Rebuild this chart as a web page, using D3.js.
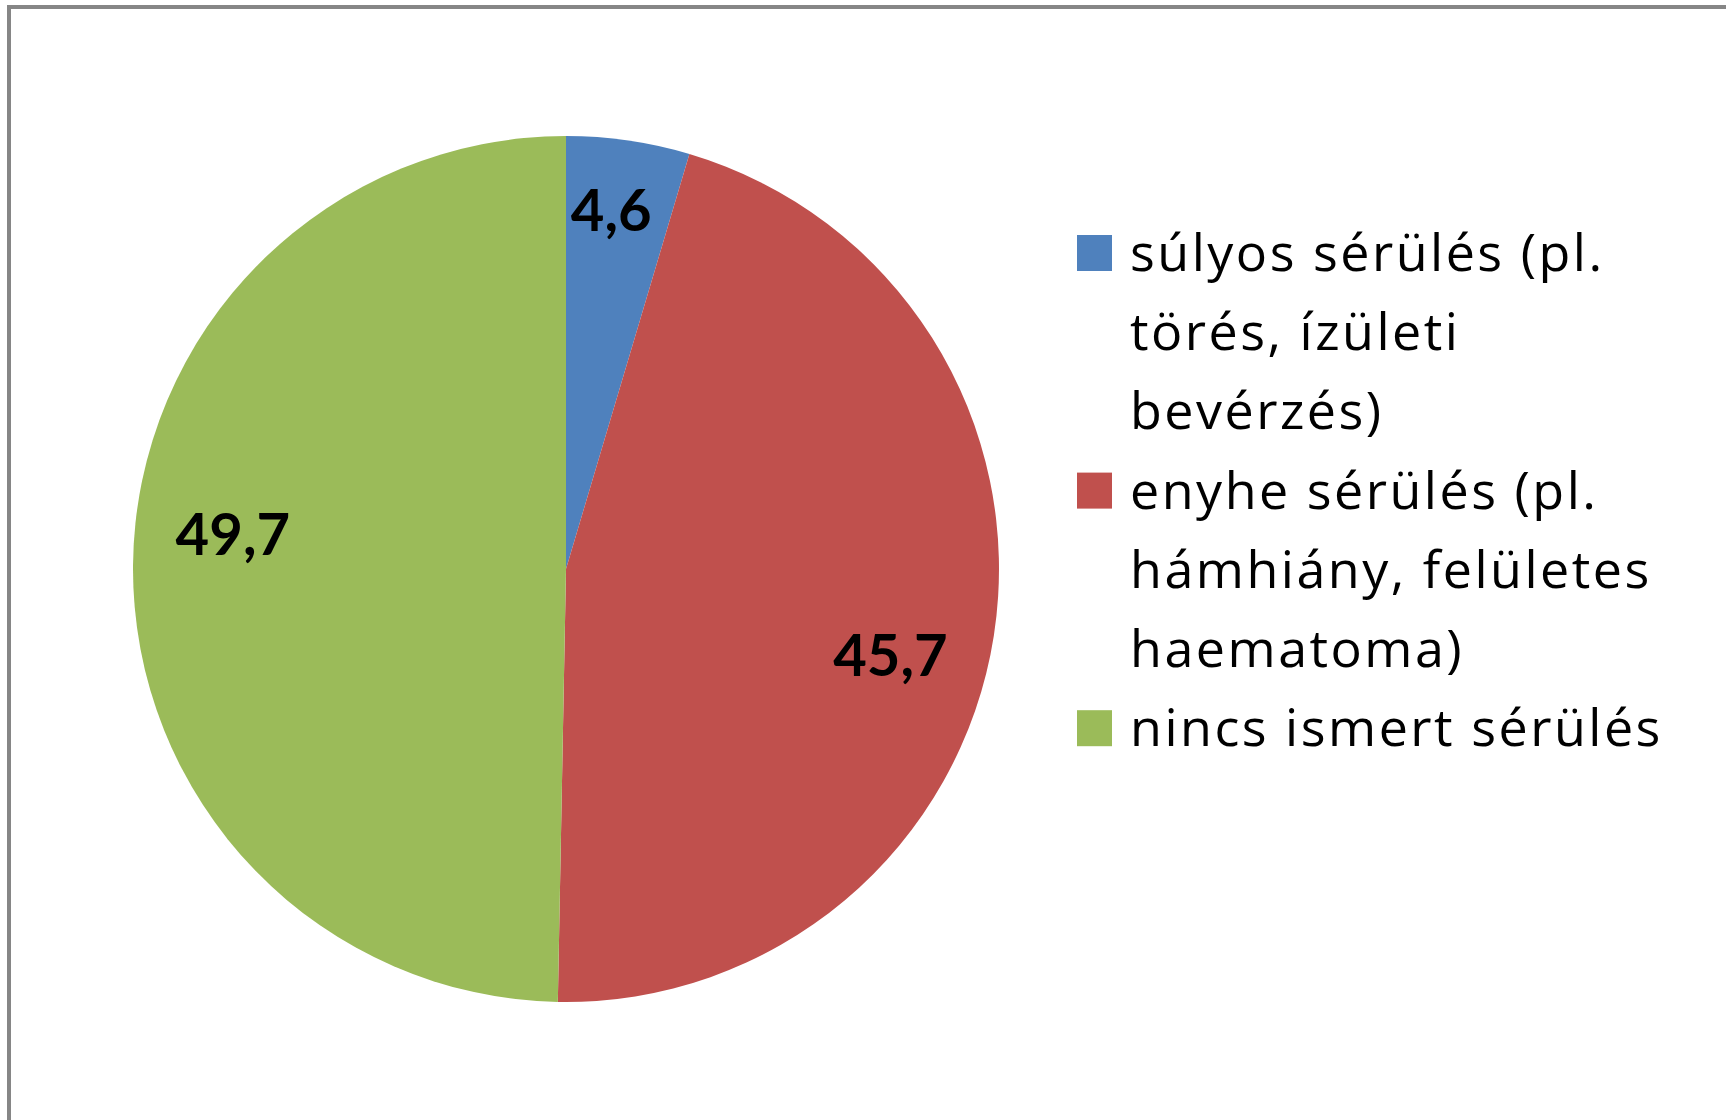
<!DOCTYPE html>
<html><head><meta charset="utf-8">
<script src="https://cdn.jsdelivr.net/npm/d3@7"></script>
<style>html,body{margin:0;padding:0;background:#fff;}svg{display:block;}</style>
</head><body>
<svg id="chart" width="1726" height="1120"></svg>
<script>
const categories = ["súlyos sérülés (pl. törés, ízületi bevérzés)", "enyhe sérülés (pl. hámhiány, felületes haematoma)", "nincs ismert sérülés"];
const legendLines = [["súlyos sérülés (pl.", "törés, ízületi", "bevérzés)"], ["enyhe sérülés (pl.", "hámhiány, felületes", "haematoma)"], ["nincs ismert sérülés"]];
const values = [4.6, 45.7, 49.7];
const valueLabels = ["4,6", "45,7", "49,7"];
const colors = ["#4F81BD", "#C0504D", "#9BBB59"];

const svg = d3.select("#chart");
// outer frame
svg.append("rect").attr("x", 10.5).attr("y", 8.5).attr("width", 1800).attr("height", 1300)
  .attr("fill", "none").attr("stroke", "#dcdcdc").attr("stroke-width", 1);
svg.append("rect").attr("x", 9).attr("y", 7).attr("width", 1800).attr("height", 1300)
  .attr("fill", "none").attr("stroke", "#868686").attr("stroke-width", 4);

const cx = 566, cy = 569, R = 433;
const pie = d3.pie().sort(null).value(d => d)(values);
const arc = d3.arc().innerRadius(0).outerRadius(R);
const g = svg.append("g").attr("transform", `translate(${cx},${cy})`);
g.selectAll("path.slice").data(pie).join("path").attr("class", "slice")
  .attr("d", arc).attr("fill", (d, i) => colors[i]);

// best-fit style label placement (small slices pushed outward)
g.selectAll("text.lbl").data(pie).join("text").attr("class", "lbl")
  .attr("transform", d => {
    const small = (d.endAngle - d.startAngle) < 0.5;
    const r = small ? 0.84 * R : 0.774 * R;
    const a = (d.startAngle + d.endAngle) / 2 + (small ? -0.02 : 0.1);
    return `translate(${r * Math.sin(a)},${-r * Math.cos(a)})`;
  })
  .attr("text-anchor", "middle").attr("dominant-baseline", "central")
  .attr("font-family", "Lato, 'Open Sans', sans-serif").attr("font-weight", "bold")
  .attr("font-size", 58).attr("fill", "#000")
  .text((d, i) => valueLabels[i]);

// legend
const lineH = 79.2, firstBase = 271;
const lg = svg.append("g");
let line = 0;
legendLines.forEach((lines, i) => {
  const base = firstBase + line * lineH;
  lg.append("rect").attr("x", 1077).attr("y", base - 36).attr("width", 35).attr("height", 36).attr("fill", colors[i]);
  lines.forEach((t, j) => {
    lg.append("text").attr("x", 1130).attr("y", base + j * lineH)
      .attr("font-family", "'Open Sans', Lato, sans-serif").attr("font-size", 52)
      .attr("letter-spacing", 2.5)
      .attr("fill", "#000").text(t);
  });
  line += lines.length;
});
</script>
</body></html>
